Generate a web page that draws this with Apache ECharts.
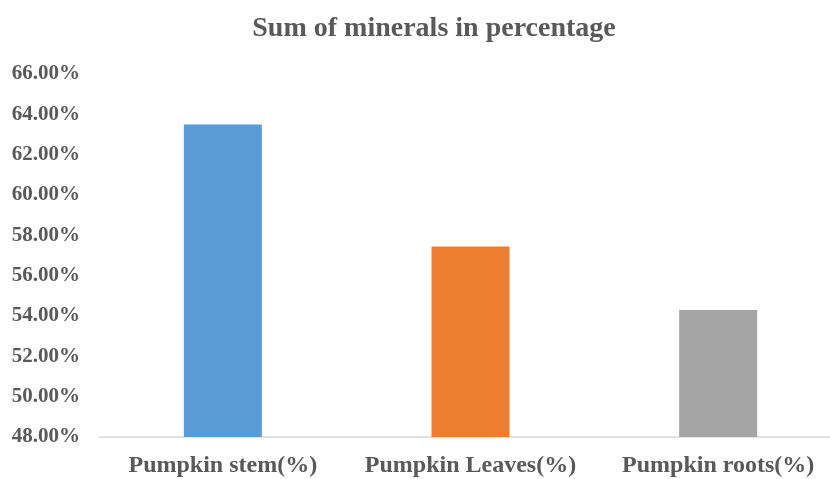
<!DOCTYPE html>
<html>
<head>
<meta charset="utf-8">
<script src="https://cdn.jsdelivr.net/npm/echarts@6/dist/echarts.min.js"></script>
<style>
html,body{margin:0;padding:0;background:#fff;overflow:hidden;width:830px;height:479px;}
#chart{width:842px;height:479px;}
</style>
</head>
<body>
<div id="chart"></div>
<script>
const categories = ["Pumpkin stem(%)", "Pumpkin Leaves(%)", "Pumpkin roots(%)"];
const values = [63.5, 57.45, 54.3];
const barColors = ["#5b9bd5", "#ed7d31", "#a5a5a5"];
const titleText = "Sum of minerals in percentage";

const chart = echarts.init(document.getElementById('chart'), null, {renderer: 'canvas'});
const font = "'Liberation Serif', 'Times New Roman', serif";
chart.setOption({
  animation: false,
  title: {
    text: titleText,
    left: 429, top: 10, textAlign: 'center',
    textStyle: {fontFamily: font, fontWeight: 'bold', fontSize: 28, color: '#595959'}
  },
  grid: {left: 99, top: 74, right: 0, height: 363, containLabel: false},
  xAxis: {
    type: 'category',
    data: categories,
    axisLine: {lineStyle: {color: '#d9d9d9', width: 1.5}},
    axisTick: {show: false},
    axisLabel: {interval: 0, fontFamily: font, fontWeight: 'bold', fontSize: 24, color: '#595959', margin: 17}
  },
  yAxis: {
    type: 'value',
    min: 48, max: 66, interval: 2,
    axisLine: {show: false},
    axisTick: {show: false},
    splitLine: {show: false},
    axisLabel: {
      fontFamily: font, fontWeight: 'bold', fontSize: 21, color: '#595959', margin: 19,
      formatter: v => v.toFixed(2) + '%'
    }
  },
  series: [{
    type: 'bar',
    barWidth: '31.5%',
    data: values.map((v, i) => ({value: v, itemStyle: {color: barColors[i]}}))
  }]
});
</script>
</body>
</html>
